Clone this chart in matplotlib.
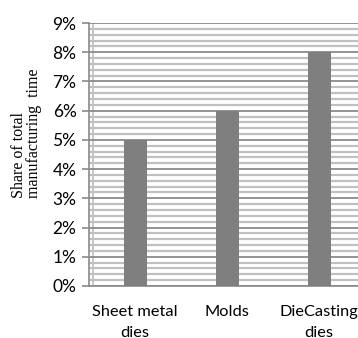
import numpy as np
import matplotlib.pyplot as plt
from matplotlib.ticker import MultipleLocator, PercentFormatter

categories = ["Sheet metal\ndies", "Molds", "DieCasting\ndies"]
shares = [5, 6, 8]  # percent of total manufacturing time

fig = plt.figure(figsize=(3.58, 3.38), dpi=100)
# right side of the plot area runs past the image edge in the reference
ax = fig.add_axes([89 / 358, 52 / 338, 276 / 358, 263 / 338])

x = np.arange(len(categories))
ax.bar(x, shares, width=0.25, color="#7f7f7f", zorder=3)

ax.set_xlim(-0.5, 2.5)
ax.set_ylim(0, 9)
ax.yaxis.set_major_locator(MultipleLocator(1))
ax.yaxis.set_minor_locator(MultipleLocator(0.2))
ax.yaxis.set_major_formatter(PercentFormatter(decimals=0))

ax.grid(which="major", axis="y", color="#8a8a8a", lw=1.3, zorder=1)
ax.grid(which="minor", axis="y", color="#c0c0c0", lw=1.6, zorder=0)
ax.axvline(-0.46, color="#c0c0c0", lw=1.2, zorder=1)

for s in ["top", "right"]:
    ax.spines[s].set_visible(False)
for s in ["left", "bottom"]:
    ax.spines[s].set_color("#8a8a8a")
    ax.spines[s].set_linewidth(1.2)

ax.set_xticks(x)
ax.set_xticklabels(categories, fontsize=11.8, family="Lato", linespacing=1.6)
ax.tick_params(axis="x", length=0, pad=14)
ax.tick_params(axis="y", which="major", length=5, color="#8a8a8a", width=1.2,
               labelsize=12.5, pad=4)
ax.tick_params(axis="y", which="minor", length=0)
for lbl in ax.get_yticklabels():
    lbl.set_family("Lato")

# the two lines of the axis title are offset from each other in the reference
fig.text(19 / 358, 1 - 155 / 338, "Share of total", rotation=90,
         ha="center", va="center", family="Liberation Serif", fontsize=11.5)
fig.text(34 / 358, 1 - 133 / 338, "manufacturing  time", rotation=90,
         ha="center", va="center", family="Liberation Serif", fontsize=11.5)

fig.savefig("out.png", dpi=100)
